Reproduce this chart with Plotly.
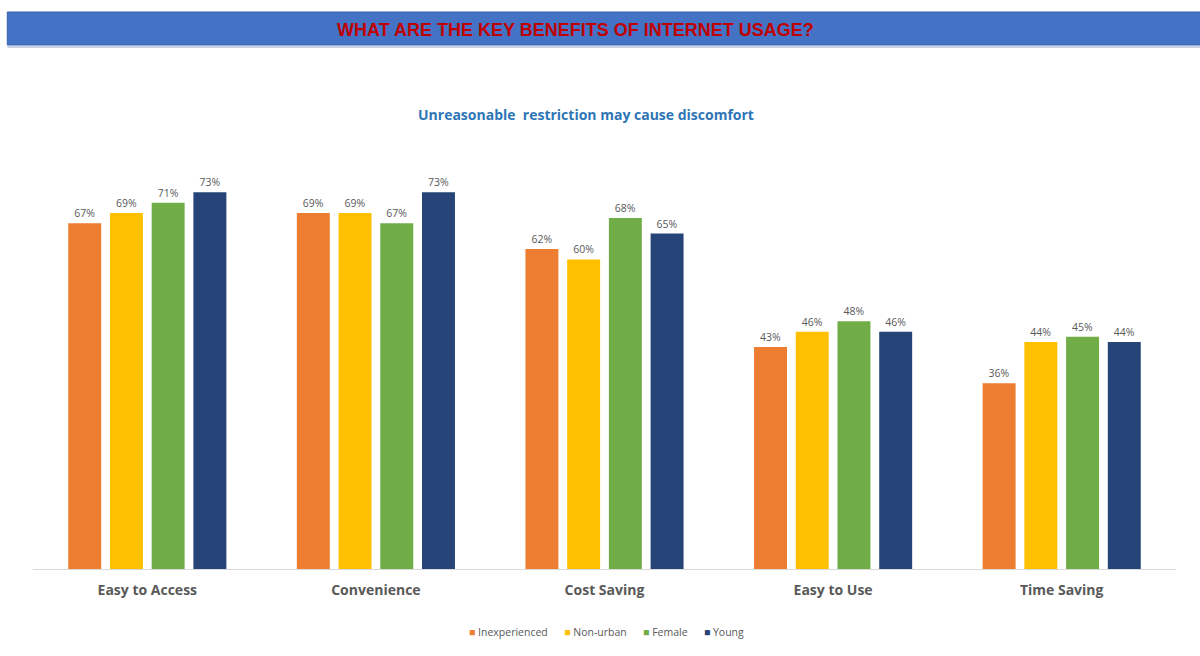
import plotly.graph_objects as go

categories = ["Easy to Access", "Convenience", "Cost Saving", "Easy to Use", "Time Saving"]
series_names = ["Inexperienced", "Non-urban", "Female", "Young"]
inexperienced = [67, 69, 62, 43, 36]
non_urban = [69, 69, 60, 46, 44]
female = [71, 67, 68, 48, 45]
young = [73, 73, 65, 46, 44]
series_values = [inexperienced, non_urban, female, young]
colors = ["#ED7D31", "#FFC000", "#70AD47", "#264478"]

FONT = "Open Sans, Liberation Sans, sans-serif"

fig = go.Figure()
for name, vals, col in zip(series_names, series_values, colors):
    fig.add_trace(go.Bar(
        x=categories, y=vals, name=name,
        marker=dict(color=col, line=dict(width=0)),
        text=[f"{v}%" for v in vals], textposition="outside",
        textfont=dict(family=FONT, size=10.5, color="#595959"),
        cliponaxis=False,
    ))

gap = "\u00a0" * 6
legend_html = gap.join(
    f"<span style='color:{c}'>■</span>\u00a0{n}" for n, c in zip(series_names, colors)
)

fig.update_layout(
    width=1200, height=656,
    margin=dict(l=33, r=24, t=150, b=87),
    paper_bgcolor="white", plot_bgcolor="white",
    barmode="group", bargap=0.27, bargroupgap=0.21,
    showlegend=False,
    xaxis=dict(showline=True, linecolor="#D9D9D9", linewidth=1, ticks="",
               tickfont=dict(family=FONT, size=14, color="#595959", weight="bold"),
               ticklabelstandoff=8,
               showgrid=False),
    yaxis=dict(range=[0, 81.2], visible=False, showgrid=False),
    shapes=[
        dict(type="rect", xref="paper", yref="paper", x0=-0.0225, x1=1.03,
             y0=1 + (150 - 45) / 419, y1=1 + (150 - 12) / 419,
             fillcolor="#4472C4", line=dict(color="#3A62AD", width=1), layer="above"),
        dict(type="line", xref="paper", yref="paper", x0=-0.0225, x1=1.03,
             y0=1 + (150 - 47) / 419, y1=1 + (150 - 47) / 419,
             line=dict(color="#C9D3E8", width=2)),
    ],
    annotations=[
        dict(text="<b>WHAT ARE THE KEY BENEFITS OF INTERNET USAGE?</b>", xref="paper", yref="paper",
             x=(575 - 33) / 1143, y=1 + (150 - 30) / 419, xanchor="center", yanchor="middle",
             showarrow=False,
             font=dict(family="Liberation Sans Narrow, Arial Narrow, Liberation Sans, sans-serif",
                       size=18, color="#C00000")),
        dict(text="<b>Unreasonable  restriction may cause discomfort</b>", xref="paper", yref="paper",
             x=(586 - 33) / 1143, y=1 + (150 - 115) / 419, xanchor="center", yanchor="middle",
             showarrow=False,
             font=dict(family=FONT, size=14, color="#2E75B6")),
        dict(text=legend_html, xref="paper", yref="paper",
             x=(606 - 33) / 1143, y=-(632 - 569) / 419, xanchor="center", yanchor="middle",
             showarrow=False,
             font=dict(family=FONT, size=10.5, color="#595959")),
    ],
)

fig.write_html("out.html")
